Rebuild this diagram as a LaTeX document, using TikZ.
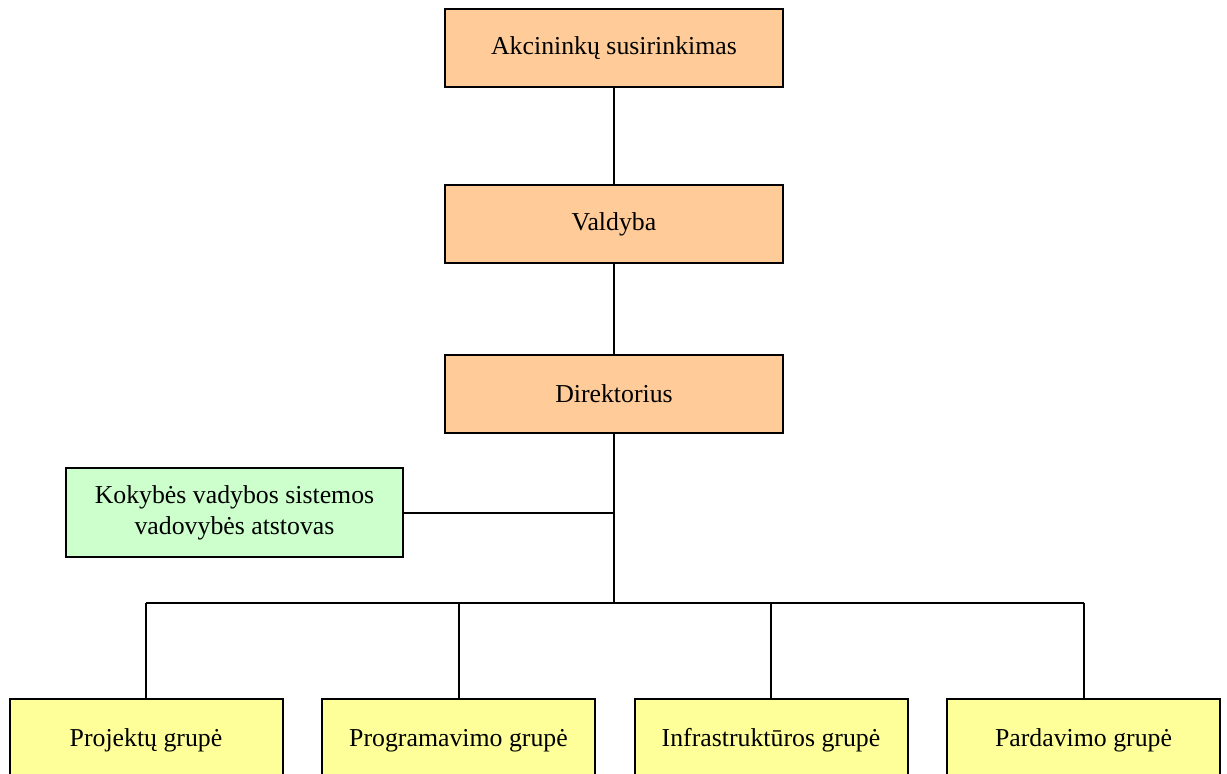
\documentclass[tikz,border=0pt]{standalone}
\usepackage{fontspec}
\setmainfont{Liberation Serif}
\definecolor{peach}{HTML}{FFCC99}
\definecolor{mint}{HTML}{CCFFCC}
\definecolor{lemon}{HTML}{FFFF99}
\tikzset{
  orgbox/.style={draw=black, line width=1pt, inner sep=0pt, align=center,
    font=\fontsize{12.9}{15.5}\selectfont},
  topbox/.style={orgbox, fill=peach, minimum width=169pt, minimum height=39pt},
  qualbox/.style={orgbox, fill=mint, minimum width=168.5pt, minimum height=44.5pt},
  groupbox/.style={orgbox, fill=lemon, minimum width=136.5pt, minimum height=41pt,
    text height=9.5pt, text depth=3pt},
  link/.style={draw=black, line width=1pt}
}
\begin{document}
\begin{tikzpicture}[x=0.5pt,y=-0.5pt]
  \clip (0,0) rectangle (1227,773);
  \fill[white] (0,0) rectangle (1227,773);

  % management chain
  \node[topbox] (ak)  at (614,48)  {Akcininkų susirinkimas};
  \node[topbox] (val) at (614,224) {Valdyba};
  \node[topbox] (dir) at (614,394) {Direktorius};

  % quality representative
  \node[qualbox] (kok) at (234.5,512.5) {Kokybės vadybos sistemos\\vadovybės atstovas};

  % groups
  \node[groupbox] (g1) at (146,740)    {Projektų grupė};
  \node[groupbox] (g2) at (458.5,740)  {Programavimo grupė};
  \node[groupbox] (g3) at (771,740)    {Infrastruktūros grupė};
  \node[groupbox] (g4) at (1083.5,740) {Pardavimo grupė};

  \coordinate (bus) at (614,603);

  \draw[link] (ak.south) -- (val.north);
  \draw[link] (val.south) -- (dir.north);
  \draw[link] (dir.south) -- (bus);
  \draw[link] (kok.east) -- (kok.east -| bus);
  \draw[link] (g1.north |- bus) -- (g4.north |- bus);
  \foreach \g in {g1,g2,g3,g4}
    \draw[link] (\g.north |- bus) -- (\g.north);
\end{tikzpicture}
\end{document}
